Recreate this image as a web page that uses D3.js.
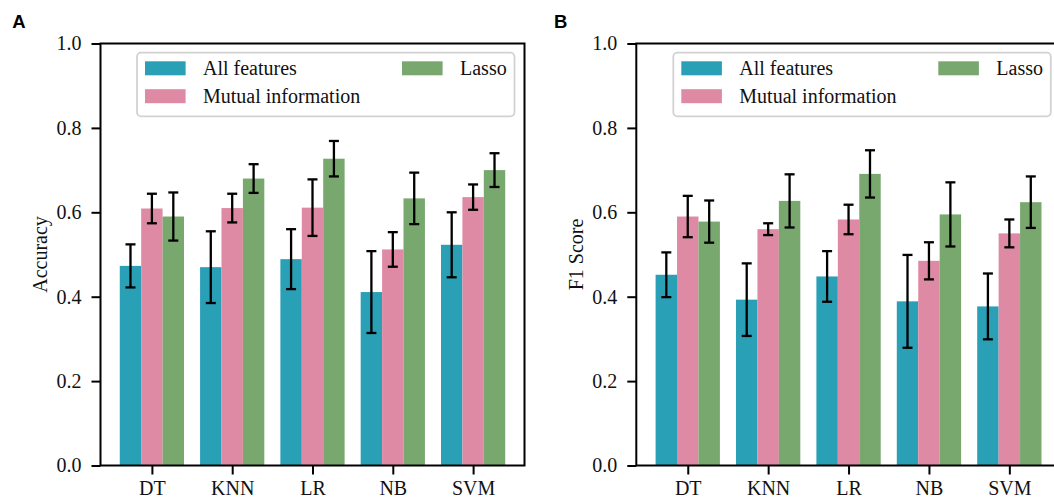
<!DOCTYPE html>
<html>
<head>
<meta charset="utf-8">
<script src="https://cdn.jsdelivr.net/npm/d3@7"></script>
<style>
  html, body { margin: 0; padding: 0; background: #fff; }
  svg { display: block; }
</style>
</head>
<body>
<svg id="chart" width="1054" height="502"></svg>
<script>
// ---- data ----
const categories = ["DT", "KNN", "LR", "NB", "SVM"];
const seriesNames = ["All features", "Mutual information", "Lasso"];
const seriesColors = ["#2aa0b7", "#de8aa5", "#79a86f"];
const yTicks = [0.0, 0.2, 0.4, 0.6, 0.8, 1.0];

const accAll   = [0.473, 0.470, 0.489, 0.411, 0.523];
const accMI    = [0.609, 0.610, 0.611, 0.512, 0.636];
const accLasso = [0.590, 0.680, 0.727, 0.633, 0.700];
const accAllErr   = [0.051, 0.085, 0.071, 0.097, 0.077];
const accMIErr    = [0.035, 0.034, 0.067, 0.041, 0.030];
const accLassoErr = [0.057, 0.034, 0.042, 0.061, 0.040];

const f1All   = [0.452, 0.393, 0.448, 0.389, 0.377];
const f1MI    = [0.590, 0.560, 0.583, 0.485, 0.550];
const f1Lasso = [0.578, 0.627, 0.691, 0.595, 0.624];
const f1AllErr   = [0.053, 0.086, 0.060, 0.110, 0.078];
const f1MIErr    = [0.049, 0.014, 0.035, 0.044, 0.033];
const f1LassoErr = [0.050, 0.063, 0.056, 0.076, 0.061];

const SERIF = "'Liberation Serif', 'Times New Roman', serif";
const svg = d3.select("#chart");

function drawPanel(opts) {
  const { left, right, top, bottom, yLabel, letter, letterX, values, errors } = opts;
  const g = svg.append("g");
  const x = d3.scaleLinear().domain([-0.64, categories.length - 1 + 0.64]).range([left, right]);
  const y = d3.scaleLinear().domain([0, 1]).range([bottom, top]);
  const barW = x(0.8 / 3) - x(0);

  // bars
  values.forEach((vals, s) => {
    g.append("g").selectAll("rect").data(vals).join("rect")
      .attr("x", (d, i) => x(i + (s - 1) * 0.8 / 3) - barW / 2)
      .attr("y", d => y(d))
      .attr("width", barW)
      .attr("height", d => y(0) - y(d))
      .attr("fill", seriesColors[s]);
  });

  // error bars
  values.forEach((vals, s) => {
    const eg = g.append("g").attr("stroke", "#000").attr("stroke-width", 2.3);
    vals.forEach((v, i) => {
      const cx = x(i + (s - 1) * 0.8 / 3);
      const e = errors[s][i];
      eg.append("line").attr("x1", cx).attr("x2", cx).attr("y1", y(v - e)).attr("y2", y(v + e));
      eg.append("line").attr("x1", cx - 5).attr("x2", cx + 5).attr("y1", y(v - e)).attr("y2", y(v - e));
      eg.append("line").attr("x1", cx - 5).attr("x2", cx + 5).attr("y1", y(v + e)).attr("y2", y(v + e));
    });
  });

  // axes
  const yAxis = d3.axisLeft(y).tickValues(yTicks).tickFormat(d3.format(".1f")).tickSize(9).tickPadding(10);
  const ya = g.append("g").attr("transform", `translate(${left},0)`).call(yAxis);
  const xAxis = d3.axisBottom(x).tickValues(d3.range(categories.length)).tickFormat(i => categories[i]).tickSize(9).tickPadding(6);
  const xa = g.append("g").attr("transform", `translate(0,${bottom})`).call(xAxis);
  [ya, xa].forEach(a => {
    a.select(".domain").remove();
    a.selectAll(".tick line").attr("stroke", "#000").attr("stroke-width", 2);
    a.selectAll(".tick text").style("font-size", "20px").style("font-family", SERIF).style("fill", "#111");
  });

  // spines (box)
  g.append("rect").attr("x", left).attr("y", top).attr("width", right - left).attr("height", bottom - top)
    .attr("fill", "none").attr("stroke", "#000").attr("stroke-width", 2);

  // y label
  g.append("text").attr("transform", `translate(${left - 53.5},${(top + bottom) / 2}) rotate(-90)`)
    .attr("text-anchor", "middle").style("font-size", "20px").style("font-family", SERIF).style("fill", "#111")
    .text(yLabel);

  // panel letter
  svg.append("text").attr("x", letterX).attr("y", 28.3)
    .style("font-family", "'Liberation Sans', Arial, sans-serif").style("font-weight", "bold")
    .style("font-size", "18.5px").style("fill", "#000").text(letter);

  // legend
  const lw = 377.5, lh = 63.6;
  const lx = right - 10 - lw, ly = 52.7;
  const lg = svg.append("g").attr("transform", `translate(${lx},${ly})`);
  lg.append("rect").attr("x", 0).attr("y", 0).attr("width", lw).attr("height", lh).attr("rx", 4)
    .attr("fill", "rgba(255,255,255,0.85)").attr("stroke", "#d2d2d2").attr("stroke-width", 1.8);
  const items = [
    { s: 0, px: 8, row: 0 },
    { s: 1, px: 8, row: 1 },
    { s: 2, px: 265, row: 0 }
  ];
  items.forEach(it => {
    const py = 8.6 + it.row * 27.9;
    lg.append("rect").attr("x", it.px).attr("y", py).attr("width", 40.6).attr("height", 14)
      .attr("fill", seriesColors[it.s]);
    lg.append("text").attr("x", it.px + 58).attr("y", py + 13.6)
      .style("font-size", "20px").style("font-family", SERIF).style("fill", "#111")
      .text(seriesNames[it.s]);
  });
}

drawPanel({
  left: 100.5, right: 524.5, top: 43.5, bottom: 465.5,
  yLabel: "Accuracy", letter: "A", letterX: 12.3,
  values: [accAll, accMI, accLasso], errors: [accAllErr, accMIErr, accLassoErr]
});
drawPanel({
  left: 636.3, right: 1060.8, top: 43.5, bottom: 465.5,
  yLabel: "F1 Score", letter: "B", letterX: 554,
  values: [f1All, f1MI, f1Lasso], errors: [f1AllErr, f1MIErr, f1LassoErr]
});
</script>
</body>
</html>
